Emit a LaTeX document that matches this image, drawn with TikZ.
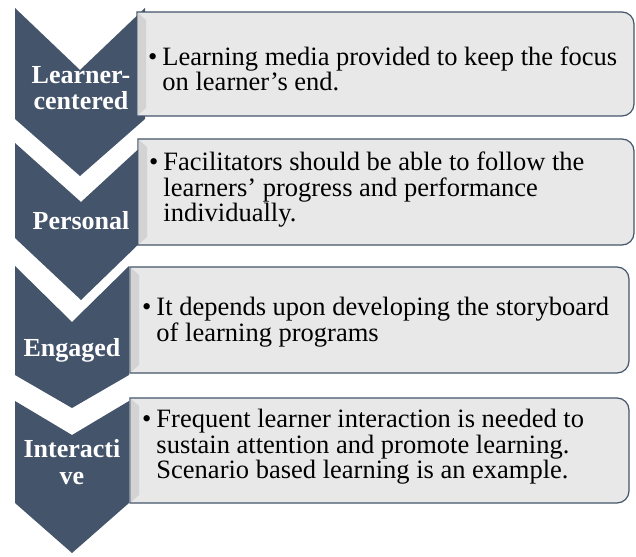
\documentclass[tikz,border=0pt]{standalone}
\usepackage{fontspec}
\setmainfont{Liberation Serif}

\definecolor{slate}{HTML}{44546A}
\definecolor{boxgray}{HTML}{E8E8E8}
\definecolor{bevelgray}{HTML}{D3D3D3}

% bullet with hanging lines
\newcommand{\bitem}[1]{\begin{tabular}{@{}l@{\hspace{5pt}}l@{}}\textbullet & #1\end{tabular}}

\begin{document}
\begin{tikzpicture}[x=1pt,y=-1pt,
    chev/.style={fill=slate},
    card/.style={fill=boxgray,draw=slate,line width=1.2pt},
    bevel/.style={fill=bevelgray},
    lab/.style={text=white,font=\fontsize{26pt}{23pt}\selectfont\bfseries,align=center,inner sep=0pt},
    txt/.style={anchor=west,font=\fontsize{26.5pt}{23pt}\selectfont,inner sep=0pt}]
            \useasboundingbox (0,0) rectangle (636,556);

            % chevrons
            \fill[chev] (15,8) -- (80,70) -- (145,8) -- (145,119) -- (80,176) -- (15,119) -- cycle;
            \fill[chev] (15,143) -- (81,202) -- (145,143) -- (145,238) -- (81,300) -- (15,238) -- cycle;
            \fill[chev] (15,266) -- (72,322) -- (129,266) -- (129,375) -- (72,408) -- (15,375) -- cycle;
            \fill[chev] (15,401) -- (72,435) -- (129,401) -- (129,503) -- (72,553) -- (15,503) -- cycle;

            % boxes, square on the left, round on the right
            \draw[card] (137,12) -- (622,12) arc[start angle=90,end angle=0,radius=12pt]
                -- (634,104) arc[start angle=0,end angle=-90,radius=12pt] -- (137,116) -- cycle;
            \draw[card] (138,139) -- (622,139) arc[start angle=90,end angle=0,radius=12pt]
                -- (634,233) arc[start angle=0,end angle=-90,radius=12pt] -- (138,245) -- cycle;
            \draw[card] (130,267) -- (617,267) arc[start angle=90,end angle=0,radius=12pt]
                -- (629,361) arc[start angle=0,end angle=-90,radius=12pt] -- (130,373) -- cycle;
            \draw[card] (130,398) -- (617,398) arc[start angle=90,end angle=0,radius=12pt]
                -- (629,491) arc[start angle=0,end angle=-90,radius=12pt] -- (130,503) -- cycle;

            \fill[bevel] (137.6,12.6) -- (146,20) -- (146,108) -- (137.6,115.4) -- cycle;
            \fill[bevel] (138.6,139.6) -- (147,147) -- (147,237) -- (138.6,244.4) -- cycle;
            \fill[bevel] (130.6,267.6) -- (139,275) -- (139,365) -- (130.6,372.4) -- cycle;
            \fill[bevel] (130.6,398.6) -- (139,406) -- (139,495) -- (130.6,502.4) -- cycle;

            % labels
            \node[lab] (lab1) at (81,88) {Learner-\\[3pt]centered};
            \node[lab] (lab2) at (81,221) {Personal};
            \node[lab] (lab3) at (72,350) {Engaged};
            \node[lab] (lab4) at (72,462.5) {Interacti\\[4pt]ve};

            \node[txt] (txt1) at (148,71.9) {\bitem{Learning media provided to keep the focus\\ & on learner's end.}};
            \node[txt] (txt2) at (149,190.4) {\bitem{Facilitators should be able to follow the\\ & learners' progress and performance\\ & individually.}};
            \node[txt] (txt3) at (142,323) {\bitem{It depends upon developing the storyboard\\ & of learning programs}};
            \node[txt] (txt4) at (142,447.4) {\bitem{Frequent learner interaction is needed to\\ & sustain attention and promote learning.\\ & Scenario based learning is an example.}};
        \end{tikzpicture}
\end{document}
